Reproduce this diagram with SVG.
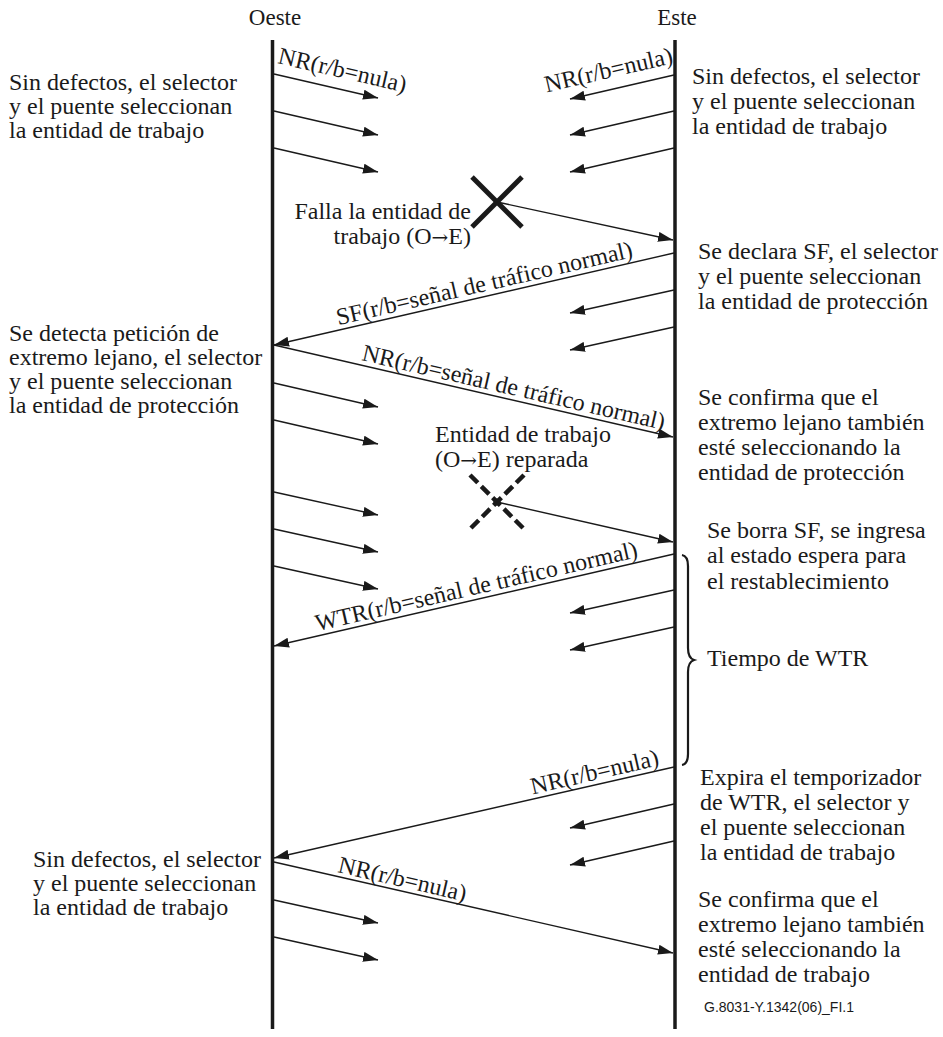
<svg xmlns="http://www.w3.org/2000/svg" width="943" height="1037" viewBox="0 0 943 1037">
<style>
text{font-family:"Liberation Serif","Times New Roman",serif;font-size:24px;fill:#1a1a1a}
.hd{font-size:23px}
.lbl{font-size:24px}
.ar{font-family:"DejaVu Serif","Liberation Serif",serif;font-size:20px}
.ft{font-family:"Liberation Sans",Arial,sans-serif;font-size:14px}
.life{stroke:#1a1a1a;stroke-width:3.5;fill:none}
.arr{stroke:#1a1a1a;stroke-width:1.4;fill:none;marker-end:url(#ah)}
.x{stroke:#1a1a1a;stroke-width:5;fill:none}
.xd{stroke:#1a1a1a;stroke-width:4.5;fill:none;stroke-dasharray:11 5}
</style>
<defs>
<marker id="ah" viewBox="0 0 15 10" refX="15" refY="5" markerWidth="15" markerHeight="10" markerUnits="userSpaceOnUse" orient="auto"><path d="M0,0 L15,5 L0,10 z" fill="#1a1a1a"/></marker>
</defs>
<rect width="943" height="1037" fill="#fff"/>

<g id="oeste">
<text class="hd" x="275" y="25" text-anchor="middle">Oeste</text>
<line class="life" x1="272.5" y1="40" x2="272.5" y2="1029"/>
</g>
<g id="este">
<text class="hd" x="677" y="25" text-anchor="middle">Este</text>
<line class="life" x1="675" y1="40" x2="675" y2="1029"/>
</g>

<g id="w1"><text x="9" y="90">Sin defectos, el selector</text><text x="9" y="114">y el puente seleccionan</text><text x="9" y="138">la entidad de trabajo</text></g>
<g id="e1"><text x="692" y="84">Sin defectos, el selector</text><text x="692" y="109">y el puente seleccionan</text><text x="692" y="134">la entidad de trabajo</text></g>
<g id="falla"><text x="471" y="219" text-anchor="end">Falla la entidad de</text><text x="471" y="244" text-anchor="end">trabajo (O<tspan class="ar">→</tspan>E)</text>
<line class="x" x1="472" y1="177" x2="522" y2="227"/><line class="x" x1="522" y1="177" x2="472" y2="227"/></g>
<g id="e2"><text x="698" y="259">Se declara SF, el selector</text><text x="698" y="284">y el puente seleccionan</text><text x="698" y="309">la entidad de protección</text></g>
<g id="w2"><text x="9" y="341">Se detecta petición de</text><text x="9" y="365">extremo lejano, el selector</text><text x="9" y="389">y el puente seleccionan</text><text x="9" y="413">la entidad de protección</text></g>
<g id="e3"><text x="698" y="405">Se confirma que el</text><text x="698" y="430">extremo lejano también</text><text x="698" y="455">esté seleccionando la</text><text x="698" y="480">entidad de protección</text></g>
<g id="reparada"><text x="435" y="442">Entidad de trabajo</text><text x="435" y="467">(O<tspan class="ar">→</tspan>E) reparada</text>
<line class="xd" x1="470" y1="475" x2="524" y2="529"/><line class="xd" x1="524" y1="475" x2="470" y2="529"/><circle cx="497" cy="502" r="3.5" fill="#1a1a1a"/></g>
<g id="e4"><text x="707" y="538">Se borra SF, se ingresa</text><text x="707" y="563">al estado espera para</text><text x="707" y="589">el restablecimiento</text></g>
<g id="wtr"><path d="M682,555 Q688,556 688,566 L688,648 Q688,658 694,660 Q688,662 688,672 L688,754 Q688,764 682,765" stroke="#1a1a1a" stroke-width="2.2" fill="none"/><text x="707" y="666">Tiempo de WTR</text></g>
<g id="e5"><text x="700" y="785">Expira el temporizador</text><text x="700" y="810">de WTR, el selector y</text><text x="700" y="835">el puente seleccionan</text><text x="700" y="860">la entidad de trabajo</text></g>
<g id="w3"><text x="33" y="867">Sin defectos, el selector</text><text x="33" y="891">y el puente seleccionan</text><text x="33" y="915">la entidad de trabajo</text></g>
<g id="e6"><text x="698" y="907">Se confirma que el</text><text x="698" y="932">extremo lejano también</text><text x="698" y="957">esté seleccionando la</text><text x="698" y="982">entidad de trabajo</text></g>
<g id="footer"><text class="ft" x="704" y="1012">G.8031-Y.1342(06)_FI.1</text></g>

<g id="connectors">
<line class="arr" x1="274" y1="74" x2="378" y2="98"/>
<line class="arr" x1="274" y1="111" x2="378" y2="135"/>
<line class="arr" x1="274" y1="148" x2="378" y2="172"/>
<line class="arr" x1="674" y1="75" x2="570" y2="99"/>
<line class="arr" x1="674" y1="111" x2="570" y2="135"/>
<line class="arr" x1="674" y1="148" x2="570" y2="172"/>
<line class="arr" x1="497" y1="202" x2="673" y2="240"/>
<line class="arr" x1="674" y1="253" x2="274" y2="345"/>
<line class="arr" x1="674" y1="290" x2="570" y2="313"/>
<line class="arr" x1="674" y1="327" x2="570" y2="350"/>
<line class="arr" x1="274" y1="345" x2="673" y2="437"/>
<line class="arr" x1="274" y1="383" x2="378" y2="407"/>
<line class="arr" x1="274" y1="420" x2="378" y2="444"/>
<line class="arr" x1="274" y1="492" x2="378" y2="515"/>
<line class="arr" x1="274" y1="529" x2="378" y2="552"/>
<line class="arr" x1="274" y1="566" x2="378" y2="589"/>
<line class="arr" x1="497" y1="502" x2="673" y2="542"/>
<line class="arr" x1="674" y1="554" x2="274" y2="646"/>
<line class="arr" x1="674" y1="590" x2="570" y2="613"/>
<line class="arr" x1="674" y1="627" x2="570" y2="650"/>
<line class="arr" x1="674" y1="767" x2="274" y2="858"/>
<line class="arr" x1="674" y1="804" x2="570" y2="828"/>
<line class="arr" x1="674" y1="841" x2="570" y2="865"/>
<line class="arr" x1="274" y1="862" x2="673" y2="953"/>
<line class="arr" x1="274" y1="900" x2="378" y2="923"/>
<line class="arr" x1="274" y1="937" x2="378" y2="960"/>
<text class="lbl" x="277" y="63" transform="rotate(13 277 63)">NR(r/b=nula)</text>
<text class="lbl" x="674" y="63" text-anchor="end" transform="rotate(-13 674 63)">NR(r/b=nula)</text>
<text class="lbl" x="486" y="291" text-anchor="middle" transform="rotate(-13 486 291)">SF(r/b=señal de tráfico normal)</text>
<text class="lbl" x="512" y="395" text-anchor="middle" transform="rotate(13 512 395)">NR(r/b=señal de tráfico normal)</text>
<text class="lbl" x="478" y="594" text-anchor="middle" transform="rotate(-13 478 594)">WTR(r/b=señal de tráfico normal)</text>
<text class="lbl" x="660" y="765" text-anchor="end" transform="rotate(-13 660 765)">NR(r/b=nula)</text>
<text class="lbl" x="337" y="872" transform="rotate(13 337 872)">NR(r/b=nula)</text>
</g>
</svg>
